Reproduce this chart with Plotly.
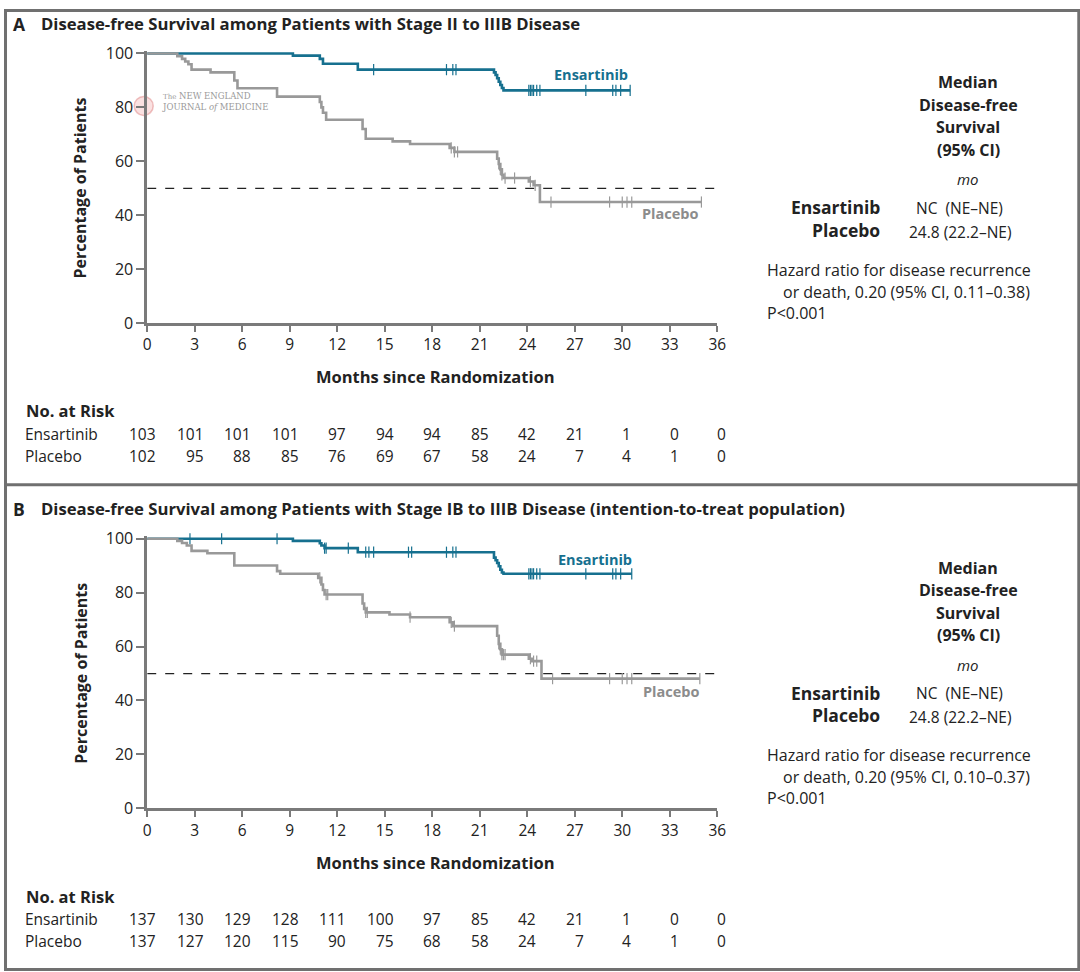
import plotly.graph_objects as go

# Observed page-to-picture mapping of the viewer (picture = O + S * figure pixel);
# figure coordinates are pre-compensated so that marks land at the reference positions.
OX, SX = 3.8, 0.988
OY, SY = 8.45, 0.9812
W, H = 1090, 985
FONT = "Open Sans"
BLUE = "#16708f"
GRAY = "#999999"
TXT = "#222222"
AXC = "#7a7a7a"

months_ticks = [0, 3, 6, 9, 12, 15, 18, 21, 24, 27, 30, 33, 36]

# ---------------- Panel A data ----------------
a_ens_t = [0, 9.2, 10.9, 11.1, 13.3, 21.9, 22.0, 22.1, 22.2, 22.3, 22.4, 22.5, 30.5]
a_ens_s = [100, 99.2, 98.0, 96.2, 94.0, 93.0, 92.0, 90.8, 89.5, 88.3, 87.2, 86.3, 86.3]
a_ens_cens = [14.3, 18.9, 19.3, 19.5, 24.1, 24.2, 24.3, 24.4, 24.6, 24.8, 27.7, 29.4, 29.6, 29.9, 30.5]

a_pla_t = [0, 1.9, 2.2, 2.4, 2.6, 2.8, 4.0, 5.5, 5.7, 8.2, 10.9, 11.0, 11.1, 11.3, 13.6, 13.8,
           15.5, 16.6, 19.1, 19.4, 22.1, 22.2, 22.3, 22.4, 22.5, 24.1, 24.4, 24.8, 35.0]
a_pla_s = [100, 99, 98, 97, 96, 94, 93, 90, 87.1, 84, 82, 80, 78, 75.4, 72, 68.4,
           67.4, 66.4, 65, 63.5, 61, 59, 57, 55, 53.8, 52.5, 51.1, 44.9, 44.9]
a_pla_cens = [19.2, 19.4, 19.6, 22.2, 22.3, 22.4, 22.6, 23.2, 24.2, 24.5, 25.5, 29.2, 30.0, 30.3, 30.6, 35.0]

a_risk_ens = [103, 101, 101, 101, 97, 94, 94, 85, 42, 21, 1, 0, 0]
a_risk_pla = [102, 95, 88, 85, 76, 69, 67, 58, 24, 7, 4, 1, 0]

# ---------------- Panel B data ----------------
b_ens_t = [0, 9.2, 10.9, 11.0, 11.2, 13.3, 21.9, 22.0, 22.1, 22.2, 22.3, 22.4, 22.5, 30.6]
b_ens_s = [100, 99.2, 98.3, 97.5, 96.5, 95.0, 93.0, 92.0, 91.0, 89.8, 88.5, 87.5, 87.0, 87.0]
b_ens_cens = [2.7, 4.7, 8.2, 11.2, 11.3, 12.7, 13.8, 14.0, 14.3, 16.5, 16.7, 18.9, 19.3, 19.5,
              24.1, 24.2, 24.3, 24.4, 24.6, 24.8, 27.7, 29.4, 29.6, 29.9, 30.6]

b_pla_t = [0, 1.9, 2.2, 2.5, 2.8, 3.8, 5.5, 8.2, 8.4, 10.8, 11.0, 11.1, 11.2, 13.6, 13.7, 13.8,
           15.3, 16.6, 19.1, 19.3, 22.1, 22.2, 22.3, 22.4, 24.1, 24.3, 24.9, 34.9]
b_pla_s = [100, 99.2, 98.4, 97.5, 95.5, 94.6, 90.1, 88, 87, 85.5, 83, 81, 79.3, 76, 74, 72.7,
           71.9, 70.9, 69, 67.6, 64, 61, 59, 57, 55.5, 54.6, 48.1, 48.1]
b_pla_cens = [10.9, 11.3, 11.4, 13.8, 13.9, 16.6, 19.2, 19.4, 22.2, 22.3, 22.4, 22.5, 22.6,
              24.2, 24.4, 24.6, 25.6, 29.2, 30.0, 30.3, 30.6, 34.9]

b_risk_ens = [137, 130, 129, 128, 111, 100, 97, 85, 42, 21, 1, 0, 0]
b_risk_pla = [137, 127, 120, 115, 90, 75, 68, 58, 24, 7, 4, 1, 0]

panels = [
    dict(letter="A", title="Disease-free Survival among Patients with Stage II to IIIB Disease",
         ens_t=a_ens_t, ens_s=a_ens_s, ens_c=a_ens_cens,
         pla_t=a_pla_t, pla_s=a_pla_s, pla_c=a_pla_cens,
         r_ens=a_risk_ens, r_pla=a_risk_pla, hr="0.20 (95% CI, 0.11–0.38)",
         top=53, off=0, ens_lab=(28.0, 92.2), pla_lab=(33.0, 40.7)),
    dict(letter="B", title="Disease-free Survival among Patients with Stage IB to IIIB Disease (intention-to-treat population)",
         ens_t=b_ens_t, ens_s=b_ens_s, ens_c=b_ens_cens,
         pla_t=b_pla_t, pla_s=b_pla_s, pla_c=b_pla_cens,
         r_ens=b_risk_ens, r_pla=b_risk_pla, hr="0.20 (95% CI, 0.10–0.37)",
         top=539, off=486, ens_lab=(28.3, 92.2), pla_lab=(33.1, 43.3)),
]

def px(x):
    return ((x - OX) / SX) / W

def py(y):
    return 1 - ((y - OY) / SY) / H

def step_at(ts, ss, t):
    v = ss[0]
    for ti, si in zip(ts, ss):
        if ti <= t:
            v = si
    return v

def ann(x, y, text, size, xanchor="center", color=TXT, **kw):
    return dict(x=px(x), y=py(y), xref="paper", yref="paper", xanchor=xanchor, yanchor="middle",
                text=text, showarrow=False, font=dict(family=FONT, size=size, color=color), **kw)

fig = go.Figure()
annotations = []
shapes = []
XL, XR = 147, 717
PPM = (XR - XL) / 36.0

for i, p in enumerate(panels):
    xa = "x" if i == 0 else "x2"
    ya = "y" if i == 0 else "y2"
    top = p["top"]
    off = p["off"]
    fig.add_trace(go.Scatter(x=[0, 36], y=[50, 50], mode="lines", xaxis=xa, yaxis=ya,
                             line=dict(color="#222222", width=1.3, dash="dash"),
                             hoverinfo="skip", showlegend=False))
    for key, col in (("ens", BLUE), ("pla", GRAY)):
        ts, ss, cs = p[key + "_t"], p[key + "_s"], p[key + "_c"]
        fig.add_trace(go.Scatter(x=ts, y=ss, mode="lines", line_shape="hv", xaxis=xa, yaxis=ya,
                                 line=dict(color=col, width=2.6), showlegend=False, hoverinfo="skip"))
        fig.add_trace(go.Scatter(x=cs, y=[step_at(ts, ss, c) for c in cs], mode="markers",
                                 xaxis=xa, yaxis=ya, cliponaxis=False,
                                 marker=dict(symbol="line-ns-open", size=8, color=col,
                                             line=dict(color=col, width=1.2)),
                                 showlegend=False, hoverinfo="skip"))
    annotations.append(dict(x=p["ens_lab"][0], y=p["ens_lab"][1], xref=xa, yref=ya, text="<b>Ensartinib</b>",
                            xanchor="center", yanchor="middle",
                            showarrow=False, font=dict(family=FONT, size=14.5, color=BLUE)))
    annotations.append(dict(x=p["pla_lab"][0], y=p["pla_lab"][1], xref=xa, yref=ya, text="<b>Placebo</b>",
                            xanchor="center", yanchor="middle",
                            showarrow=False, font=dict(family=FONT, size=14.5, color="#8c8c8c")))
    annotations.append(ann(11, off + 23, "<b>" + p["letter"] + "</b>", 17.5, xanchor="left"))
    annotations.append(ann(39, off + 23, "<b>" + p["title"] + "</b>", 16.7, xanchor="left"))
    annotations.append(ann(80, top + 135, "<b>Percentage of Patients</b>", 16, textangle=-90))
    annotations.append(ann(435, off + 377, "<b>Months since Randomization</b>", 16.5))
    annotations.append(ann(24, off + 411, "<b>No. at Risk</b>", 16.5, xanchor="left"))
    for lab, vals, yy in (("Ensartinib", p["r_ens"], off + 434), ("Placebo", p["r_pla"], off + 456)):
        annotations.append(ann(23, yy, lab, 15.5, xanchor="left"))
        for m, v in zip(months_ticks, vals):
            annotations.append(ann(XL + m * PPM + 11, yy, str(v), 15.5, xanchor="right"))
    for j, line in enumerate(["Median", "Disease-free", "Survival", "(95% CI)"]):
        annotations.append(ann(968, off + 82 + j * 22.5, "<b>" + line + "</b>", 16))
    annotations.append(ann(968, off + 179, "<i>mo</i>", 15))
    annotations.append(ann(882, off + 207, "<b>Ensartinib</b>", 17.5, xanchor="right"))
    annotations.append(ann(882, off + 230, "<b>Placebo</b>", 17.5, xanchor="right"))
    annotations.append(ann(914, off + 208, "NC  (NE–NE)", 15.5, xanchor="left"))
    annotations.append(ann(907, off + 232, "24.8 (22.2–NE)", 15.5, xanchor="left"))
    annotations.append(ann(765, off + 270, "Hazard ratio for disease recurrence", 16, xanchor="left"))
    annotations.append(ann(781, off + 292, "or death, " + p["hr"], 16, xanchor="left"))
    annotations.append(ann(765, off + 313, "P&lt;0.001", 16, xanchor="left"))

# watermark (panel A)
annotations.append(dict(x=px(160), y=py(101), xref="paper", yref="paper", xanchor="left", yanchor="middle",
                        text="<span style='font-size:7px'>The</span> NEW ENGLAND<br>JOURNAL <i>of</i> MEDICINE",
                        showarrow=False, align="left",
                        font=dict(family="DejaVu Serif", size=8.5, color="#9a9a9a")))
shapes.append(dict(type="circle", xref="paper", yref="paper", x0=px(134), x1=px(153), y0=py(115), y1=py(96),
                   line=dict(color="rgba(220,120,120,0.45)", width=1.5),
                   fillcolor="rgba(240,170,170,0.35)", layer="below"))

# outer frame and panel separator
shapes.append(dict(type="rect", xref="paper", yref="paper", x0=0.0014, y0=py(970.5), x1=px(1078.5), y1=0.9985,
                   line=dict(color="#707070", width=3)))
shapes.append(dict(type="line", xref="paper", yref="paper", x0=0, x1=1, y0=py(485), y1=py(485),
                   line=dict(color="#707070", width=3)))

common_x = dict(range=[0, 36], tickvals=months_ticks, ticks="outside", ticklen=6, tickwidth=1.5,
                tickcolor=AXC, showline=True, linecolor=AXC, linewidth=2.5, showgrid=False, zeroline=False,
                tickfont=dict(family=FONT, size=15.5, color=TXT), fixedrange=True)
common_y = dict(range=[0, 100.9], tickvals=[0, 20, 40, 60, 80, 100], ticks="outside", ticklen=8, tickwidth=1.5,
                tickcolor=AXC, showline=True, linecolor=AXC, linewidth=2.5, showgrid=False, zeroline=False,
                tickfont=dict(family=FONT, size=16, color=TXT), fixedrange=True)

def ydom(top):
    bot = top + 270
    return [py(bot), py(top - 270 * 0.009)]

fig.update_layout(
    width=W, height=H, margin=dict(l=0, r=0, t=0, b=0),
    paper_bgcolor="white", plot_bgcolor="white",
    xaxis=dict(domain=[px(XL), px(XR)], anchor="y", **common_x),
    yaxis=dict(domain=ydom(53), anchor="x", **common_y),
    xaxis2=dict(domain=[px(XL), px(XR)], anchor="y2", **common_x),
    yaxis2=dict(domain=ydom(539), anchor="x2", **common_y),
    annotations=annotations, shapes=shapes, showlegend=False,
)

fig.write_html("out.html")
